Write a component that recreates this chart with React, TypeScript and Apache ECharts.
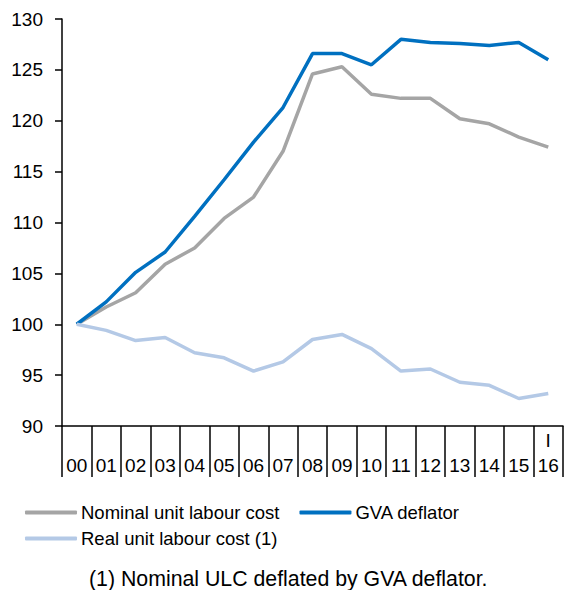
import React, { useEffect, useRef } from "react";
import * as echarts from "echarts";

const categories = ["00", "01", "02", "03", "04", "05", "06", "07", "08", "09", "10", "11", "12", "13", "14", "15", "16"];
const topLabels = ["", "", "", "", "", "", "", "", "", "", "", "", "", "", "", "", "I"];
const nominalULC = [100, 101.7, 103.1, 105.9, 107.5, 110.4, 112.5, 117.0, 124.6, 125.3, 122.6, 122.2, 122.2, 120.2, 119.7, 118.4, 117.4];
const gvaDeflator = [100, 102.2, 105.1, 107.1, 110.6, 114.2, 117.9, 121.3, 126.6, 126.6, 125.5, 128.0, 127.7, 127.6, 127.4, 127.7, 126.0];
const realULC = [100, 99.4, 98.4, 98.7, 97.2, 96.7, 95.4, 96.3, 98.5, 99.0, 97.6, 95.4, 95.6, 94.3, 94.0, 92.7, 93.2];
const seriesNames = ["Nominal unit labour cost", "GVA deflator", "Real unit labour cost (1)"];
const footnote = "(1) Nominal ULC deflated by GVA deflator.";

const FONT = "'Liberation Sans', Arial, sans-serif";

export default function App() {
  const ref = useRef<HTMLDivElement>(null);
  useEffect(() => {
    if (!ref.current) return;
    const chart = echarts.init(ref.current, null, { renderer: "svg" });
    const colors = ["#A5A5A5", "#0070C0", "#B4C9E6"];
    const legendCommon = {
      left: 25,
      itemWidth: 52,
      itemHeight: 4,
      icon: "roundRect",
      padding: 0,
      textStyle: { fontSize: 18.5, color: "#000", fontFamily: FONT, padding: [0, 0, 0, -1] },
    };
    chart.setOption({
      animation: false,
      textStyle: { fontFamily: FONT },
      grid: { left: 62, right: 5, top: 19, bottom: 164, containLabel: false },
      legend: [
        { ...legendCommon, data: [seriesNames[0], seriesNames[1]], top: 503, itemGap: 20 },
        { ...legendCommon, data: [seriesNames[2]], top: 529 },
      ],
      xAxis: {
        type: "category",
        data: categories,
        boundaryGap: true,
        axisLine: { show: true, lineStyle: { color: "#000", width: 1.5 } },
        axisTick: { show: true, length: 51, interval: 0, lineStyle: { color: "#000", width: 1.5 } },
        axisLabel: {
          interval: 0,
          margin: 2,
          fontSize: 19,
          lineHeight: 25,
          color: "#000",
          fontFamily: FONT,
          formatter: (v: string, i: number) => topLabels[i] + "\n" + v,
        },
      },
      yAxis: {
        type: "value",
        min: 90,
        max: 130,
        interval: 5,
        splitLine: { show: false },
        axisLine: { show: true, lineStyle: { color: "#000", width: 1.5 } },
        axisTick: { show: true, length: 7, lineStyle: { color: "#000", width: 1.5 } },
        axisLabel: { fontSize: 19, color: "#000", margin: 19, fontFamily: FONT },
      },
      series: [
        { name: seriesNames[0], type: "line", data: nominalULC, symbol: "none", lineStyle: { color: colors[0], width: 3.5 }, itemStyle: { color: colors[0] } },
        { name: seriesNames[1], type: "line", data: gvaDeflator, symbol: "none", lineStyle: { color: colors[1], width: 3.5 }, itemStyle: { color: colors[1] } },
        { name: seriesNames[2], type: "line", data: realULC, symbol: "none", lineStyle: { color: colors[2], width: 3.5 }, itemStyle: { color: colors[2] } },
      ],
      graphic: [
        {
          type: "text",
          left: 89,
          top: 568,
          style: { text: footnote, fontSize: 21.3, fill: "#000", fontFamily: FONT },
        },
      ],
    });
    return () => chart.dispose();
  }, []);
  return <div ref={ref} style={{ width: 568, height: 590, position: "absolute", left: 0, top: 0 }} />;
}
